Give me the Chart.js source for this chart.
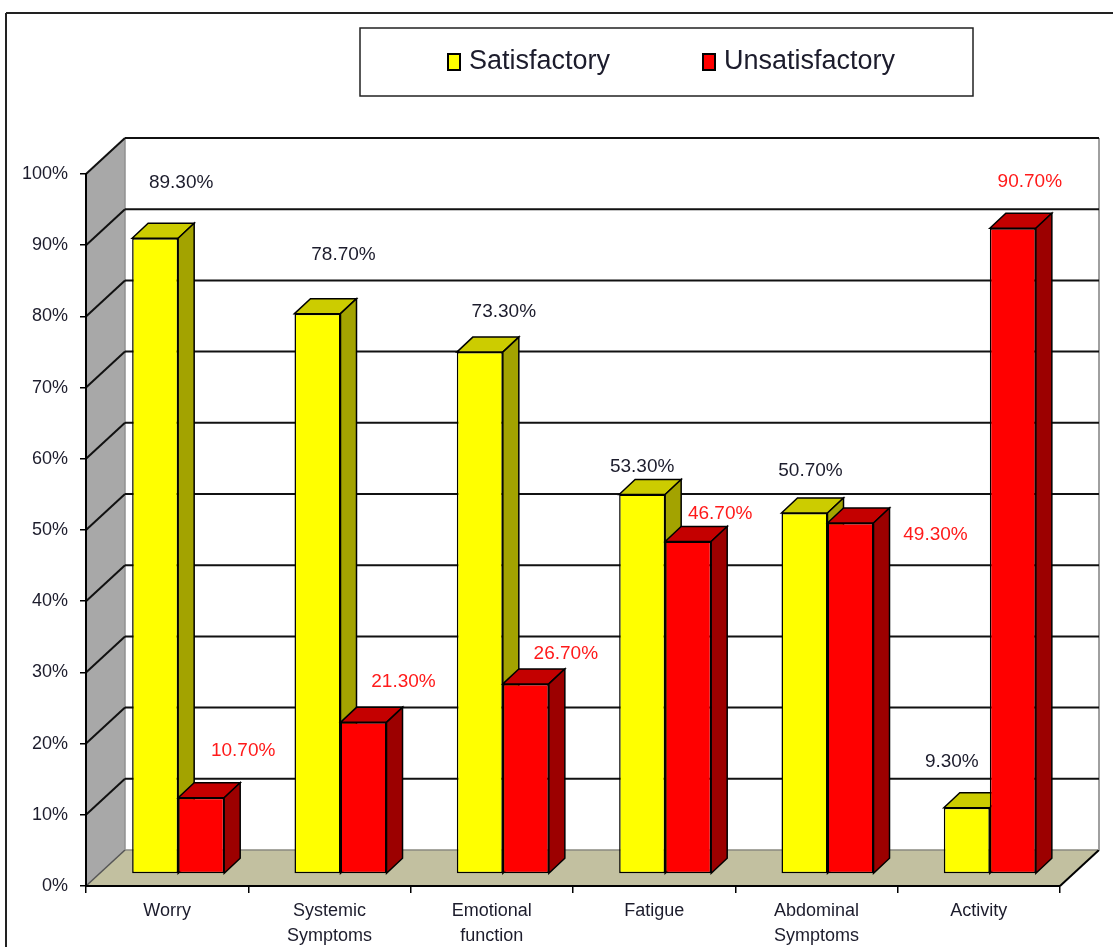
<!DOCTYPE html>
<html>
<head>
<meta charset="utf-8">
<title>Satisfactory vs Unsatisfactory</title>
<script src="https://cdn.jsdelivr.net/npm/chart.js@4.4.1/dist/chart.umd.min.js"></script>
<style>
    body { margin: 0; background: #fff; }
    #myChart { display: block; }
</style>
</head>
<body>
<canvas id="myChart" width="1113" height="947"></canvas>
<script>
// Categories (multi-line labels) and the two series, in percent
const categories = [['Worry'], ['Systemic', 'Symptoms'], ['Emotional', 'function'], ['Fatigue'], ['Abdominal', 'Symptoms'], ['Activity']];
const satisfactory = [89.3, 78.7, 73.3, 53.3, 50.7, 9.3];
const unsatisfactory = [10.7, 21.3, 26.7, 46.7, 49.3, 90.7];
const yTicks = [0, 10, 20, 30, 40, 50, 60, 70, 80, 90, 100];

// Where each value label sits relative to the top of its bar
const satLabelShift = [[26, -55], [26, -59], [24, -40], [0, -28], [6, -42], [-15, -46]];
const unsatLabelShift = [[42, -47], [40, -41], [40, -30], [32, -28], [85, 12], [17, -46]];

const FONT = "'Liberation Sans', Arial, sans-serif";
const DEPTH = { x: 39, y: -36 };     // front plane -> back wall
const BAR_SHIFT = { x: 11, y: -12 }; // front plane -> bar front face
const BAR_DEPTH = { x: 16, y: -15 }; // thickness of each bar

const faceColors = [
    { top: '#cccc00', side: '#a3a300' },
    { top: '#c40000', side: '#9c0000' }
];

function poly(ctx, pts, fill, stroke, lw) {
    ctx.beginPath();
    ctx.moveTo(pts[0][0], pts[0][1]);
    for (let i = 1; i < pts.length; i++) ctx.lineTo(pts[i][0], pts[i][1]);
    ctx.closePath();
    if (fill) { ctx.fillStyle = fill; ctx.fill(); }
    if (stroke) { ctx.strokeStyle = stroke; ctx.lineWidth = lw || 1; ctx.stroke(); }
}

function line(ctx, x1, y1, x2, y2, color, lw) {
    ctx.beginPath();
    ctx.moveTo(x1, y1);
    ctx.lineTo(x2, y2);
    ctx.strokeStyle = color;
    ctx.lineWidth = lw;
    ctx.stroke();
}

// Walls, floor, gridlines, outer frame and legend box
const walls = {
    id: 'walls',
    beforeDraw(chart) {
        const ctx = chart.ctx;
        const a = chart.chartArea;
        const y = chart.scales.y;
        const L = a.left, R = a.right, B = a.bottom, T = a.top;
        const bl = L + DEPTH.x, br = R + DEPTH.x;
        ctx.save();
        ctx.fillStyle = '#fff';
        ctx.fillRect(0, 0, chart.width, chart.height);

        // frame
        line(ctx, 6, 13, chart.width, 13, '#222', 2);
        line(ctx, 6, 13, 6, chart.height, '#222', 2);

        // side wall
        poly(ctx, [[L, T], [bl, T + DEPTH.y], [bl, B + DEPTH.y], [L, B]], '#a8a8a8');
        // floor
        poly(ctx, [[L, B], [bl, B + DEPTH.y], [br, B + DEPTH.y], [R, B]], '#c2c0a0');
        line(ctx, bl, B + DEPTH.y, br, B + DEPTH.y, '#8a8a80', 1.5);
        line(ctx, L, B, bl, B + DEPTH.y, '#555', 1.5);
        line(ctx, R, B, br, B + DEPTH.y, '#000', 2);
        // back wall edges
        line(ctx, bl, T + DEPTH.y, bl, B + DEPTH.y, '#909090', 1.5);
        line(ctx, br, T + DEPTH.y, br, B + DEPTH.y, '#a0a0a0', 2);

        // gridlines on back wall and side wall
        yTicks.forEach(function (v) {
            if (v === 0) return;
            const py = y.getPixelForValue(v);
            line(ctx, bl, py + DEPTH.y, br, py + DEPTH.y, '#111', 2);
            line(ctx, L, py, bl, py + DEPTH.y, '#111', 2);
        });

        // legend
        ctx.strokeStyle = '#222';
        ctx.lineWidth = 1.5;
        ctx.strokeRect(360, 28, 613, 68);
        const items = [{ x: 448, ds: chart.data.datasets[0] }, { x: 703, ds: chart.data.datasets[1] }];
        ctx.font = '27px ' + FONT;
        ctx.textBaseline = 'middle';
        ctx.textAlign = 'left';
        items.forEach(function (it) {
            ctx.fillStyle = it.ds.backgroundColor;
            ctx.fillRect(it.x, 54, 12, 16);
            ctx.strokeStyle = '#000';
            ctx.lineWidth = 2;
            ctx.strokeRect(it.x, 54, 12, 16);
            ctx.fillStyle = '#1c1c2c';
            ctx.fillText(it.ds.label, it.x + 21, 62);
        });
        ctx.restore();
    }
};

// Bars sit a little behind the front plane and get top and side faces.
// Datasets are drawn first to last so the red fronts hide the yellow sides.
const bars3d = {
    id: 'bars3d',
    beforeDatasetsDraw(chart) {
        const ctx = chart.ctx;
        chart.data.datasets.forEach(function (ds, di) {
            const meta = chart.getDatasetMeta(di);
            const c = faceColors[di];
            ctx.save();
            ctx.translate(BAR_SHIFT.x, BAR_SHIFT.y);
            meta.controller.draw();
            meta.data.forEach(function (bar) {
                const p = bar.getProps(['x', 'y', 'base', 'width'], true);
                const l = p.x - p.width / 2, r = p.x + p.width / 2;
                const dx = BAR_DEPTH.x, dy = BAR_DEPTH.y;
                poly(ctx, [[l, p.y], [l + dx, p.y + dy], [r + dx, p.y + dy], [r, p.y]], c.top, '#000', 1.5);
                poly(ctx, [[r, p.y], [r + dx, p.y + dy], [r + dx, p.base + dy], [r, p.base]], c.side, '#000', 1.5);
            });
            ctx.restore();
        });
        return false;
    },
    afterDraw(chart) {
        const ctx = chart.ctx;
        ctx.save();
        ctx.font = '19px ' + FONT;
        ctx.textAlign = 'center';
        ctx.textBaseline = 'middle';
        const shifts = [satLabelShift, unsatLabelShift];
        const colors = ['#1c1c2c', '#ff1a1a'];
        chart.data.datasets.forEach(function (ds, di) {
            chart.getDatasetMeta(di).data.forEach(function (bar, i) {
                const p = bar.getProps(['x', 'y'], true);
                ctx.fillStyle = colors[di];
                ctx.fillText(ds.data[i].toFixed(2) + '%',
                    p.x + BAR_SHIFT.x + shifts[di][i][0],
                    p.y + BAR_SHIFT.y + shifts[di][i][1]);
            });
        });
        ctx.restore();
    }
};

var ctx = document.getElementById('myChart').getContext('2d');
var myChart = new Chart(ctx, {
    type: 'bar',
    data: {
        labels: categories,
        datasets: [{
            label: 'Satisfactory',
            data: satisfactory,
            backgroundColor: '#ffff00',
            borderColor: '#000',
            borderWidth: 1.5,
            borderSkipped: false,
            categoryPercentage: 0.567,
            barPercentage: 1
        },
        {
            label: 'Unsatisfactory',
            data: unsatisfactory,
            backgroundColor: '#ff0000',
            borderColor: '#000',
            borderWidth: 1.5,
            borderSkipped: false,
            categoryPercentage: 0.567,
            barPercentage: 1
        }]
    },
    options: {
        responsive: false,
        animation: false,
        devicePixelRatio: 1,
        layout: { padding: { left: 0, top: 174, right: 53, bottom: 0 } },
        plugins: {
            legend: { display: false },
            tooltip: { enabled: false }
        },
        scales: {
            x: {
                afterFit: function (s) { s.height = 61; },
                border: { display: true, color: '#000', width: 2 },
                grid: { drawOnChartArea: false, drawTicks: true, tickLength: 7, color: '#000', lineWidth: 1.5 },
                ticks: {
                    color: '#1c1c2c',
                    font: { family: FONT, size: 18, lineHeight: 1.38 },
                    padding: 6,
                    maxRotation: 0,
                    autoSkip: false
                }
            },
            y: {
                min: 0,
                max: 100,
                afterFit: function (s) { s.width = 86; },
                afterBuildTicks: function (s) { s.ticks = yTicks.map(function (v) { return { value: v }; }); },
                border: { display: true, color: '#000', width: 2 },
                grid: { drawOnChartArea: false, drawTicks: true, tickLength: 6, color: '#000', lineWidth: 1.5 },
                ticks: {
                    color: '#1c1c2c',
                    font: { family: FONT, size: 18 },
                    padding: 12,
                    callback: function (v) { return v + '%'; }
                }
            }
        }
    },
    plugins: [walls, bars3d]
});
</script>
</body>
</html>
